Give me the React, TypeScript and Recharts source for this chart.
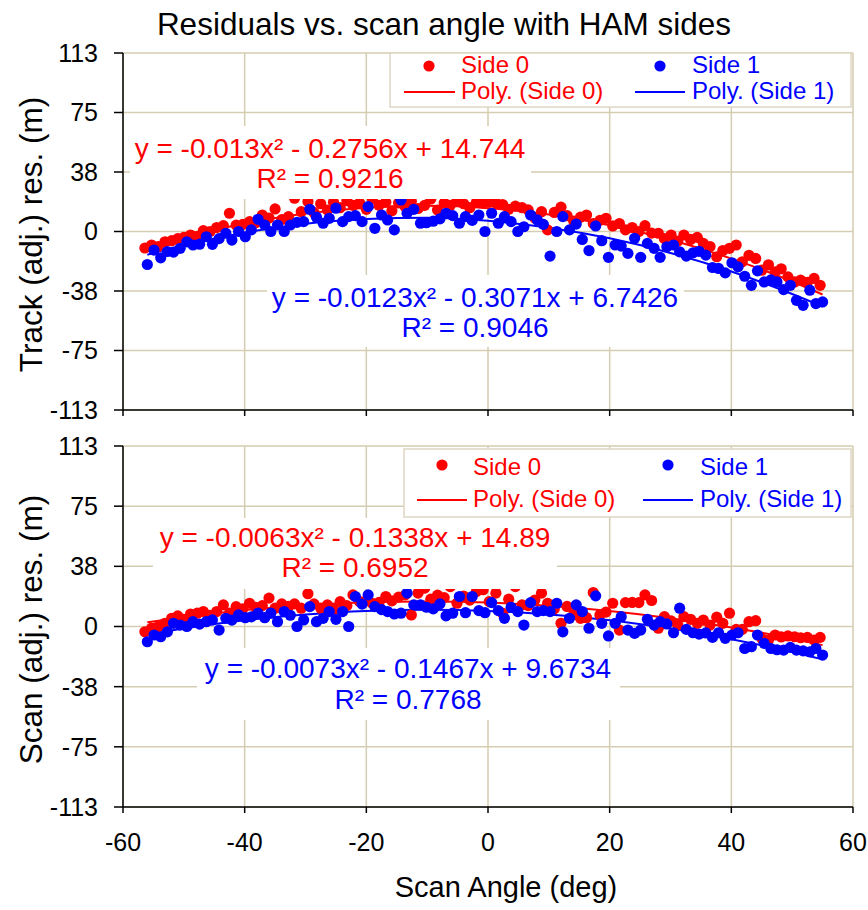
import React from 'react';
import { ComposedChart, Scatter, Line, XAxis, YAxis, CartesianGrid } from 'recharts';

// scan angles (deg) of the two HAM sides, shared by both panels
const angleSide0 = [
  -56.4, -55.3, -54.2, -53.1, -52.0, -51.0, -50.0, -48.9, -47.8, -46.8,
  -45.7, -44.6, -43.5, -42.5, -41.4, -40.3, -39.2, -38.2, -37.1, -36.0,
  -35.0, -33.9, -32.8, -31.8, -30.7, -29.6, -28.6, -27.5, -26.4, -25.4,
  -24.3, -23.2, -22.2, -21.1, -20.0, -19.0, -17.9, -16.8, -15.8, -14.7,
  -13.6, -12.6, -11.5, -10.4, -9.4, -8.3, -7.2, -6.2, -5.1, -4.0,
  -3.0, -1.9, -0.8, 0.2, 1.3, 2.4, 3.4, 4.5, 5.6, 6.6,
  7.7, 8.8, 9.8, 10.9, 12.0, 13.0, 14.1, 15.2, 16.2, 17.3,
  18.4, 19.4, 20.5, 21.6, 22.6, 23.7, 24.8, 25.8, 26.9, 28.0,
  29.0, 30.1, 31.2, 32.2, 33.3, 34.4, 35.4, 36.5, 37.6, 38.6,
  39.7, 40.8, 41.8, 42.9, 44.0, 45.0, 46.1, 47.2, 48.2, 49.3,
  50.4, 51.4, 52.5, 53.6, 54.6,
];
const angleSide1 = [
  -56.0, -54.9, -53.8, -52.7, -51.7, -50.6, -49.5, -48.5, -47.4, -46.3,
  -45.3, -44.2, -43.1, -42.1, -41.0, -39.9, -38.9, -37.8, -36.7, -35.7,
  -34.6, -33.5, -32.5, -31.4, -30.3, -29.3, -28.2, -27.1, -26.1, -25.0,
  -23.9, -22.9, -21.8, -20.7, -19.7, -18.6, -17.5, -16.5, -15.4, -14.3,
  -13.3, -12.2, -11.1, -10.1, -9.0, -7.9, -6.9, -5.8, -4.7, -3.7,
  -2.6, -1.5, -0.5, 0.6, 1.7, 2.7, 3.8, 4.9, 5.9, 7.0,
  8.1, 9.1, 10.2, 11.3, 12.3, 13.4, 14.5, 15.5, 16.6, 17.7,
  18.7, 19.8, 20.9, 21.9, 23.0, 24.1, 25.1, 26.2, 27.3, 28.3,
  29.4, 30.5, 31.5, 32.6, 33.7, 34.7, 35.8, 36.9, 37.9, 39.0,
  40.1, 41.1, 42.2, 43.3, 44.3, 45.4, 46.5, 47.5, 48.6, 49.7,
  50.7, 51.8, 52.9, 53.9, 55.0,
];

// track (adj.) residuals, m
const trackSide0 = [
  -10.4, -8.5, -9.5, -6.5, -5.8, -4.5, -3.7, -2.2, -3.0, 0.5,
  0.0, 2.5, 3.7, 11.5, 4.0, 4.5, 6.2, 5.5, 10.4, 8.5,
  14.2, 7.5, 9.4, 21.0, 12.5, 18.9, 12.0, 17.5, 13.5, 18.5,
  15.0, 19.5, 16.5, 18.0, 14.0, 20.5, 16.5, 18.5, 13.0, 18.0,
  15.5, 19.0, 14.5, 16.5, 20.5, 13.5, 18.0, 16.5, 19.5, 17.5,
  15.0, 18.5, 18.0, 18.5, 18.0, 17.0, 14.0, 16.0, 15.0, 13.6,
  8.5, 12.5, 1.0, 12.0, 15.3, 10.0, 6.5, 9.0, 10.4, 5.0,
  7.0, 8.3, 3.5, 5.0, 1.0, 2.5, 0.0, 3.7, -1.0, -1.1,
  -4.5, -2.2, -6.0, -2.2, -5.0, -3.7, -7.5, -9.5, -15.9, -12.0,
  -10.6, -8.5, -19.1, -15.0, -17.0, -24.4, -21.0, -25.4, -23.5, -28.6,
  -31.8, -30.7, -32.0, -29.6, -33.9,
];
const trackSide1 = [
  -20.8, -11.7, -16.6, -12.6, -13.0, -10.6, -6.5, -8.5, -8.0, -3.3,
  -8.1, -4.5, -1.1, -5.4, 0.0, -3.3, 1.0, 7.7, 4.1, 0.0,
  4.1, 0.0, 4.1, 5.8, 6.2, 14.0, 9.0, 5.2, 8.3, 14.7,
  6.2, 9.4, 10.0, 6.2, 15.7, 2.0, 10.4, 7.3, 1.0, 19.9,
  11.5, 14.0, 5.2, 5.5, 6.5, 8.0, 11.5, 10.0, 5.2, 9.4,
  7.0, 10.4, 0.0, 11.5, 5.2, 9.4, 6.2, 0.0, 3.0, 10.4,
  7.3, 4.5, -15.5, 0.0, 9.4, 1.0, 4.7, -5.0, -12.0, 3.5,
  -5.8, -16.3, -8.5, -9.2, -13.8, -4.3, -16.3, -7.5, -10.6, -16.3,
  -9.6, -8.5, -12.8, -15.5, -13.4, -12.5, -14.9, -22.7, -23.3, -26.1,
  -19.7, -22.3, -28.2, -33.9, -24.8, -31.8, -30.5, -31.8, -36.6, -33.9,
  -43.4, -46.5, -37.0, -45.4, -44.4,
];

// scan (adj.) residuals, m
const scanSide0 = [
  -3.3, -1.0, 0.0, 2.0, 5.1, 6.6, 4.5, 7.8, 8.3, 9.3,
  7.0, 9.3, 13.5, 8.3, 12.4, 11.0, 14.5, 12.0, 13.0, 17.7,
  11.4, 14.1, 12.5, 14.1, 11.4, 20.4, 14.1, 11.4, 13.5, 10.8,
  15.5, 13.0, 19.7, 15.5, 16.0, 14.5, 15.0, 18.7, 16.0, 18.3,
  19.7, 7.2, 20.8, 23.9, 17.0, 19.5, 18.0, 24.9, 14.5, 19.0,
  16.5, 21.8, 22.9, 15.5, 20.8, 8.3, 17.0, 24.9, 13.5, 13.0,
  16.5, 20.8, 14.5, 11.0, 2.0, 12.5, 7.5, 5.1, 5.5, 21.2,
  7.2, 9.0, 14.5, -2.2, 14.9, 15.0, 14.9, 19.7, 16.2, -1.1,
  6.1, 3.5, 0.9, 6.1, 4.5, 2.0, 4.0, 0.9, 5.8, 2.0,
  8.3, -1.8, -1.8, 3.0, 3.6, -7.4, -8.5, -5.3, -6.5, -5.9,
  -6.4, -7.0, -6.8, -8.5, -6.8,
];
const scanSide1 = [
  -9.5, -5.3, -6.4, -3.3, 2.0, 0.9, 0.0, 3.0, 1.5, 3.0,
  4.1, -2.2, 5.1, 4.0, 7.2, 5.5, 6.0, 8.3, 5.5, 8.3,
  3.0, 9.3, 7.0, 0.0, 4.1, 12.4, 3.0, 5.1, 9.3, 4.5,
  9.3, 0.0, 18.7, 14.0, 19.7, 12.4, 10.5, 9.3, 7.8, 8.3,
  20.8, 13.5, 13.5, 12.0, 11.0, 14.1, 6.6, 8.3, 18.7, 8.6,
  18.7, 9.9, 8.6, 14.9, 9.9, 5.1, 12.0, 9.3, 0.9, 14.9,
  9.3, 9.9, 9.3, 14.5, -3.3, 5.1, 13.5, 9.3, -1.1, 19.1,
  2.0, -5.9, 2.0, 6.1, -2.2, -4.3, -2.2, 4.5, 0.9, 3.0,
  1.6, -3.9, 11.4, -1.8, -3.9, -4.7, -4.0, -6.8, -3.9, -7.4,
  -5.3, -3.9, -13.7, -12.6, -5.3, -10.5, -13.7, -14.5, -14.7, -13.0,
  -14.7, -15.2, -15.8, -13.7, -17.8,
];

// polynomial trendlines
const polyAngles = [-56, -50, -40, -30, -20, -10, 0, 10, 20, 30, 40, 50, 55];
const trackPoly0 = [-10.6, -4.0, 5.0, 11.3, 15.0, 16.2, 14.7, 10.7, 4.0, -5.2, -17.1, -31.5, -39.7];
const trackPoly1 = [-14.6, -8.6, -0.7, 4.9, 7.9, 8.6, 6.7, 2.4, -4.3, -13.5, -25.2, -39.4, -47.3];
const scanPoly0 = [2.6, 5.8, 10.2, 13.2, 15.1, 15.6, 14.9, 12.9, 9.7, 5.2, -0.6, -7.5, -11.6];
const scanPoly1 = [-5.0, -1.2, 3.9, 7.5, 9.7, 10.4, 9.7, 7.5, 3.9, -1.3, -7.9, -15.9, -20.5];

const xTicks = [-60, -40, -20, 0, 20, 40, 60];
const yTicks = [-112.5, -75, -37.5, 0, 37.5, 75, 112.5];

const FONT = '"Liberation Sans", Arial, sans-serif';
const RED = '#ff0000';
const BLUE = '#0000ff';
const GRID = '#d5cdb1';

const zip = (xs: number[], ys: number[]) =>
  xs.slice(0, ys.length).map((x, i) => ({ x, y: ys[i] }));

const yFmt = (v: number) => (v < 0 ? '-' : '') + Math.round(Math.abs(v));

const dot = (color: string) => (props: any) =>
  <circle cx={props.cx} cy={props.cy} r={5.6} fill={color} />;

interface PanelProps {
  top: number;
  height: number;
  marginTop: number;
  xAxisHeight: number;
  bottomPanel: boolean;
  yLabel: string;
  side0: number[];
  side1: number[];
  poly0: number[];
  poly1: number[];
}

const Panel = ({ top, height, marginTop, xAxisHeight, bottomPanel, yLabel, side0, side1, poly0, poly1 }: PanelProps) => (
  <div style={{ position: 'absolute', left: 0, top }}>
    <ComposedChart width={868} height={height} margin={{ top: marginTop, right: 15, bottom: 0, left: 0 }}>
      <CartesianGrid stroke={GRID} strokeWidth={1.5} />
      <XAxis
        type="number"
        dataKey="x"
        domain={[-60, 60]}
        ticks={xTicks}
        interval={0}
        height={xAxisHeight}
        axisLine={{ stroke: '#000', strokeWidth: 1.5 }}
        tickLine={{ stroke: '#000', strokeWidth: 1.5 }}
        tickSize={6}
        tickMargin={20}
        tick={{ fontSize: 25, fill: '#000', fontFamily: FONT }}
        tickFormatter={(v: number) => (bottomPanel ? String(v) : '')}
        label={bottomPanel ? {
          value: 'Scan Angle (deg)', position: 'insideBottom', offset: 13, dx: 18,
          style: { fontSize: 29, fill: '#000', fontFamily: FONT },
        } : undefined}
      />
      <YAxis
        type="number"
        dataKey="y"
        domain={[-112.5, 112.5]}
        ticks={yTicks}
        interval={0}
        width={123}
        axisLine={{ stroke: '#000', strokeWidth: 1.5 }}
        tickLine={{ stroke: '#000', strokeWidth: 1.5 }}
        tickSize={9}
        tickMargin={16}
        tick={{ fontSize: 25, fill: '#000', fontFamily: FONT }}
        tickFormatter={yFmt}
        label={{
          value: yLabel, angle: -90, position: 'center', dx: -31, dy: 3,
          style: { fontSize: 31.5, fill: '#000', fontFamily: FONT },
        }}
      />
      <Scatter data={zip(angleSide0, side0)} fill={RED} shape={dot(RED)} isAnimationActive={false} />
      <Scatter data={zip(angleSide1, side1)} fill={BLUE} shape={dot(BLUE)} isAnimationActive={false} />
      <Line data={zip(polyAngles, poly0)} dataKey="y" type="monotone" stroke={RED} strokeWidth={2} dot={false} isAnimationActive={false} />
      <Line data={zip(polyAngles, poly1)} dataKey="y" type="monotone" stroke={BLUE} strokeWidth={2} dot={false} isAnimationActive={false} />
    </ComposedChart>
  </div>
);

// legend boxes and trendline equations drawn over the plots
const legends = [
  { x: 390, y: 53, w: 461, h: 54, row1: 73, row2: 99, lineY: 92, dotY: 66, red: [404, 455, 429, 461], blue: [635, 685, 660, 692] },
  { x: 404, y: 449, w: 447, h: 68, row1: 475, row2: 507, lineY: 500, dotY: 465, red: [417, 467, 442, 473], blue: [643, 693, 668, 700] },
];

const equations = [
  { color: RED, box: [130, 126, 401, 73], cx: 330, y1: 158, y2: 188, l1: 'y = -0.013x² - 0.2756x + 14.744', l2: 'R² = 0.9216' },
  { color: BLUE, box: [267, 275, 417, 72], cx: 475, y1: 307, y2: 337, l1: 'y = -0.0123x² - 0.3071x + 6.7426', l2: 'R² = 0.9046' },
  { color: RED, box: [153, 518, 404, 71], cx: 355, y1: 547, y2: 577, l1: 'y = -0.0063x² - 0.1338x + 14.89', l2: 'R² = 0.6952' },
  { color: BLUE, box: [197, 648, 423, 72], cx: 408, y1: 678, y2: 709, l1: 'y = -0.0073x² - 0.1467x + 9.6734', l2: 'R² = 0.7768' },
];

const Overlay = () => (
  <svg width={868} height={910} style={{ position: 'absolute', left: 0, top: 0, fontFamily: FONT }}>
    <text x={444} y={35} textAnchor="middle" fontSize={31.5} fill="#000">
      Residuals vs. scan angle with HAM sides
    </text>
    {equations.map((e, i) => (
      <g key={'eq' + i}>
        <rect x={e.box[0]} y={e.box[1]} width={e.box[2]} height={e.box[3]} fill="#fff" />
        <text x={e.cx} y={e.y1} textAnchor="middle" fontSize={28} fill={e.color}>{e.l1}</text>
        <text x={e.cx} y={e.y2} textAnchor="middle" fontSize={28} fill={e.color}>{e.l2}</text>
      </g>
    ))}
    {legends.map((l, i) => (
      <g key={'lg' + i} fontSize={24}>
        <rect x={l.x} y={l.y} width={l.w} height={l.h} fill="#fff" stroke="#ddd6c4" strokeWidth={1.5} />
        <circle cx={l.red[2]} cy={l.dotY} r={5.6} fill={RED} />
        <text x={l.red[3]} y={l.row1} fill={RED}>Side 0</text>
        <line x1={l.red[0]} x2={l.red[1]} y1={l.lineY} y2={l.lineY} stroke={RED} strokeWidth={2} />
        <text x={l.red[3]} y={l.row2} fill={RED}>Poly. (Side 0)</text>
        <circle cx={l.blue[2]} cy={l.dotY} r={5.6} fill={BLUE} />
        <text x={l.blue[3]} y={l.row1} fill={BLUE}>Side 1</text>
        <line x1={l.blue[0]} x2={l.blue[1]} y1={l.lineY} y2={l.lineY} stroke={BLUE} strokeWidth={2} />
        <text x={l.blue[3]} y={l.row2} fill={BLUE}>Poly. (Side 1)</text>
      </g>
    ))}
  </svg>
);

export default function App() {
  return (
    <div style={{ position: 'absolute', left: 0, top: 0, width: 868, height: 910, background: '#fff' }}>
      <Panel top={0} height={430} marginTop={53} xAxisHeight={20} bottomPanel={false}
        yLabel="Track (adj.) res. (m)" side0={trackSide0} side1={trackSide1} poly0={trackPoly0} poly1={trackPoly1} />
      <Panel top={420} height={490} marginTop={26} xAxisHeight={103} bottomPanel={true}
        yLabel="Scan (adj.) res. (m)" side0={scanSide0} side1={scanSide1} poly0={scanPoly0} poly1={scanPoly1} />
      <Overlay />
    </div>
  );
}
